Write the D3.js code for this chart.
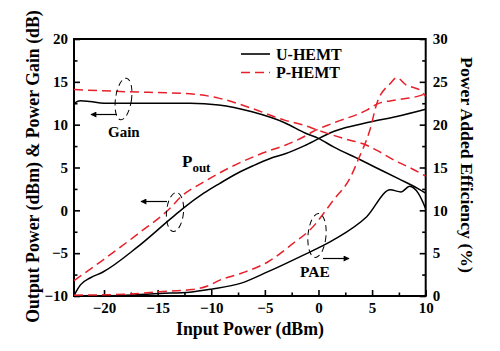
<!DOCTYPE html>
<html><head><meta charset="utf-8">
<script src="https://cdn.jsdelivr.net/npm/d3@7"></script>
<style>body{margin:0;background:#fff}svg{display:block}</style>
</head><body>
<svg id="c" width="500" height="351"></svg>
<script>
// ---- data (x = input power dBm) ----
const gainU = [[-22.8,12.5],[-22.2,12.8],[-21.3,12.7],[-20,12.5],[-15,12.5],[-12,12.5],[-9.3,12.3],[-6.2,11.5],[-3.1,10.2],[-1.2,9.0],[0,8.4],[1.4,7.4],[3.9,5.9],[5.1,5.15],[7.45,3.7],[9.2,2.6],[10,2.0]];
const gainP = [[-22.8,14.1],[-18,13.85],[-12,13.6],[-9.3,13.1],[-6.2,11.9],[-3.1,10.5],[-1.5,10.0],[-0.15,9.4],[2.3,8.4],[4.5,7.6],[5.45,7.0],[7.3,5.7],[8.5,5.0],[10,4.0]];
const poutU = [[-22.8,-10],[-22.6,-9.5],[-22.2,-8.7],[-21.3,-7.9],[-20.1,-7.2],[-16.9,-4.3],[-13.8,-1.0],[-12.6,0.25],[-10.7,2.0],[-9.2,3.15],[-7.6,4.3],[-6.1,5.2],[-4.5,6.05],[-3.1,6.6],[-1.2,7.6],[1.4,9.2],[4.8,10.3],[7.3,10.95],[10,11.8]];
const poutP = [[-22.8,-8.2],[-20.1,-5.8],[-16.9,-2.8],[-13.8,0.3],[-12.9,1.5],[-10.7,3.3],[-7.6,5.4],[-4.5,7.0],[-3.1,7.6],[-1.2,8.7],[-0.5,9.2],[1.4,10.2],[4.5,11.7],[5.45,12.4],[7.3,12.9],[8.9,13.2],[10,13.6]];
const paeU = [[-22.8,0],[-18,0.1],[-14.8,0.3],[-12,0.45],[-10,0.8],[-7.2,1.5],[-4.7,2.84],[-1.7,4.6],[1.4,6.54],[4.5,9.26],[6.7,12.4],[7.7,12.15],[8.5,12.8],[9.3,12.0],[10,10.2]];
const paeP = [[-22.8,0.1],[-18,0.2],[-14.8,0.5],[-11.8,0.75],[-10.1,1.28],[-9.3,1.8],[-7.2,2.65],[-4.7,4.0],[-2.2,6.3],[-0.8,7.7],[1.4,11.2],[3.0,13.9],[3.7,15.9],[4.8,19.4],[5.45,22.5],[6.7,24.8],[7.3,25.5],[8.2,24.6],[8.7,24.4],[9.5,24.0],[10,23.3]];
const xTicks = [-20,-15,-10,-5,0,5,10];
const yLeftTicks = [-10,-5,0,5,10,15,20];
const yRightTicks = [0,5,10,15,20,25,30];
const legendLabels = ["U-HEMT","P-HEMT"];

const RED = "#e8202a";
const FONT = "'Liberation Serif','Times New Roman',serif";
const svg = d3.select("#c");
const L=74, R=425.7, T=39, B=296;
const x = d3.scaleLinear().domain([-22.8,10]).range([L,R]);
const yL = d3.scaleLinear().domain([-10,20]).range([B,T]);
const yR = d3.scaleLinear().domain([0,30]).range([B,T]);

svg.append("defs").append("clipPath").attr("id","clip")
  .append("rect").attr("x",L).attr("y",T).attr("width",R-L).attr("height",B-T);
svg.select("defs").append("marker").attr("id","ah").attr("viewBox","0 0 10 10")
  .attr("refX",9).attr("refY",5).attr("markerWidth",9).attr("markerHeight",6)
  .attr("markerUnits","userSpaceOnUse").attr("orient","auto")
  .append("path").attr("d","M0,0L10,5L0,10Z").attr("fill","#000");

// axes
function minor(a,b,s){const r=[];for(let v=a;v<=b+1e-9;v+=s)r.push(+v.toFixed(3));return r;}
const xMinor = minor(-17.5,7.5,5);
const yMinor = minor(-7.5,17.5,5);
const yRMinor = minor(2.5,27.5,5);

const gx = svg.append("g").attr("transform",`translate(0,${B})`)
  .call(d3.axisBottom(x).tickValues(xTicks).tickSize(-6).tickPadding(6).tickFormat(d3.format("d")));
const gxm = svg.append("g").attr("transform",`translate(0,${B})`)
  .call(d3.axisBottom(x).tickValues(xMinor).tickSize(-3.5).tickFormat(""));
const gy = svg.append("g").attr("transform",`translate(${L},0)`)
  .call(d3.axisLeft(yL).tickValues(yLeftTicks).tickSize(-6).tickPadding(6).tickFormat(d3.format("d")));
const gym = svg.append("g").attr("transform",`translate(${L},0)`)
  .call(d3.axisLeft(yL).tickValues(yMinor).tickSize(-3.5).tickFormat(""));
const gr = svg.append("g").attr("transform",`translate(${R},0)`)
  .call(d3.axisRight(yR).tickValues(yRightTicks).tickSize(-6).tickPadding(7).tickFormat(d3.format("d")));
const grm = svg.append("g").attr("transform",`translate(${R},0)`)
  .call(d3.axisRight(yR).tickValues(yRMinor).tickSize(-3.5).tickFormat(""));
[gx,gxm,gy,gym,gr,grm].forEach(g=>{
  g.select(".domain").remove();
  g.selectAll("line").attr("stroke","#000").attr("stroke-width",1.6);
  g.selectAll("text").attr("font-family",FONT).attr("font-weight","bold").attr("font-size",15).attr("fill","#000");
});
svg.append("rect").attr("x",L).attr("y",T).attr("width",R-L).attr("height",B-T)
  .attr("fill","none").attr("stroke","#000").attr("stroke-width",2);

// lines
const lineL = d3.line().x(d=>x(d[0])).y(d=>yL(d[1])).curve(d3.curveMonotoneX);
const lineR = d3.line().x(d=>x(d[0])).y(d=>yR(d[1])).curve(d3.curveMonotoneX);
const plot = svg.append("g").attr("clip-path","url(#clip)");
const series = [
  {d:gainU,f:lineL,c:"#000",dash:null},
  {d:poutU,f:lineL,c:"#000",dash:null},
  {d:paeU,f:lineR,c:"#000",dash:null},
  {d:gainP,f:lineL,c:RED,dash:"9,5"},
  {d:poutP,f:lineL,c:RED,dash:"9,5"},
  {d:paeP,f:lineR,c:RED,dash:"9,5"}
];
series.forEach(s=>{
  plot.append("path").attr("d",s.f(s.d)).attr("fill","none").attr("stroke",s.c)
    .attr("stroke-width",1.5).attr("stroke-dasharray",s.dash);
});

// legend
legendLabels.forEach((t,i)=>{
  const yy = 54 + i*18.5;
  svg.append("line").attr("x1",241).attr("x2",270).attr("y1",yy).attr("y2",yy)
    .attr("stroke",i?RED:"#000").attr("stroke-width",1.6).attr("stroke-dasharray",i?"9,5":null);
  svg.append("text").attr("x",276).attr("y",yy+5.5).text(t)
    .attr("font-family",FONT).attr("font-weight","bold").attr("font-size",16);
});

// annotations
function ell(cx,cy,rx,ry,rot){
  svg.append("ellipse").attr("cx",cx).attr("cy",cy).attr("rx",rx).attr("ry",ry)
    .attr("transform",`rotate(${rot},${cx},${cy})`)
    .attr("fill","none").attr("stroke","#000").attr("stroke-width",1).attr("stroke-dasharray","6,4");
}
function arrow(x1,y1,x2,y2){
  svg.append("line").attr("x1",x1).attr("y1",y1).attr("x2",x2).attr("y2",y2)
    .attr("stroke","#000").attr("stroke-width",1.2).attr("marker-end","url(#ah)");
}
ell(123.5,99,8,21,8);
arrow(117,114.5,91,114.5);
ell(175,212,8.5,19.5,5);
arrow(167,201.5,141,201.5);
ell(317,235.5,9,22,5);
arrow(323,258.5,349,258.5);

function lbl(t,xx,yy,fs){
  return svg.append("text").attr("x",xx).attr("y",yy).text(t).attr("font-family",FONT)
    .attr("font-weight","bold").attr("font-size",fs).attr("fill","#000");
}
lbl("Gain",108,137,15);
const pt = svg.append("text").attr("x",182).attr("y",167).attr("font-family",FONT).attr("font-weight","bold");
pt.append("tspan").attr("font-size",17).text("P");
pt.append("tspan").attr("font-size",13).attr("dy",5).text("out");
lbl("PAE",300,277,15.5);

// axis titles fitted to target widths
function fitText(sel,target){
  const w = sel.node().getComputedTextLength();
  const fs = +sel.attr("font-size");
  sel.attr("font-size", fs*target/w);
}
const xt = lbl("Input Power (dBm)",250,335,18).attr("text-anchor","middle");
fitText(xt,148);
const ylt = lbl("Output Power (dBm) & Power Gain (dB)",0,0,17).attr("text-anchor","middle")
  .attr("transform","translate(39,166.5) rotate(-90)");
fitText(ylt,313);
const yrt = lbl("Power Added Efficiency (%)",0,0,17).attr("text-anchor","middle")
  .attr("transform","translate(461,165) rotate(90)");
fitText(yrt,216);
</script>
</body></html>
